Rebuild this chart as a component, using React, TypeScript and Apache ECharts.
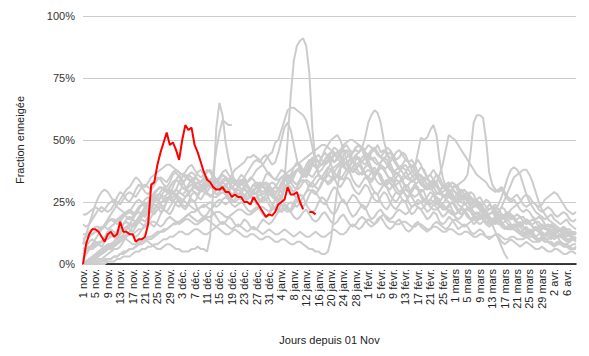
import React, { useEffect, useRef } from "react";
import * as echarts from "echarts";

// Month names and lengths used to build the day categories (1 Nov -> 9 Apr)
const monthNames = ["nov.", "déc.", "janv.", "févr.", "mars", "avr."];
const monthDays = [30, 31, 31, 28, 31, 9];

// Current season (red), fraction in %
const current = [
  0, 8, 12, 14, 14, 13, 11, 9, 12, 13,
  11, 12, 17, 13, 13, 12, 12, 9, 10, 10,
  11, 16, 32, 33, 40, 45, 49, 53, 48, 49,
  46, 42, 50, 56, 54, 55, 48, 45, 41, 37,
  34, 33, 31, 30, 30, 31, 29, 29, 27, 28,
  27, 27, 25, 25, 24, 27, 25, 23, 21, 19,
  20, 19.5, 21, 24, 25, 26, 31, 28, 28, 29,
  25, 22, null, 21, 21, 20,
];

// Past seasons (grey), fraction in %
const s01 = [
  0,1,2,3,4,5,6,7,8,8, 9,10,11,11,10,9,8,8,9,10, 10,9,8,7,6,6,7,8,8,7, 6,6,5,5,5,6,6,7,6,6,
  5,11,30,55,65,60,49,42,37,33, 31,32,33,31,29,28,29,31,33,32, 29,27,26,28,31,34,36,35,33,32, 34,37,40,42,41,39,40,43,45,43,
  40,37,35,34,36,38,37,34,32,31, 33,35,34,31,29,28,30,32,31,28, 26,25,27,29,28,25,23,24,26,25, 23,21,22,24,23,21,19,20,22,21,
  19,18,19,21,20,18,16,17,19,18, 16,15,16,18,17,15,14,15,16,14, 13,12,14,15,13,12,11,12,13,12, 11,10,12,13,11,10,9,10,11,10,
];
const s02 = [
  16,15,16,18,20,22,23,22,21,22, 24,27,29,28,26,25,27,30,32,31, 29,28,30,33,35,34,32,31,33,36, 37,35,33,34,36,35,33,31,30,31,
  29,31,37,46,53,58,57,56,56,
];
const s03 = [
  0,0,1,1,2,3,4,5,6,6, 7,8,10,12,14,15,16,17,18,20, 22,24,26,27,26,24,23,25,28,29, 27,25,23,22,24,26,25,22,20,19,
  20,22,21,19,17,16,17,19,18,16, 15,16,18,17,15,14,14,16,18,17, 16,17,19,21,25,34,50,68,82,88, 90,91,88,77,54,41,36,35,37,39,
  38,35,32,31,33,35,34,31,29,28, 30,32,31,28,26,25,27,29,28,25, 23,22,24,26,25,22,20,21,23,22, 20,18,19,21,20,17,16,17,19,18,
  16,14,15,16,15,13,12,13,14,13, 11,10,11,12,11,9,8,9,10,9, 8,7,8,9,8,7,6,6,7,6, 5,5,6,6,5,4,4,5,5,4,
];
const s04 = [
  8,9,11,12,13,13,14,15,17,18, 17,16,17,19,21,22,21,20,22,24, 26,27,26,28,30,31,30,29,31,33, 34,33,31,30,32,34,35,34,33,35,
  37,38,36,34,35,37,38,36,34,33, 34,36,35,33,34,36,38,39,40,42, 44,45,49,50,54,58,62,63,63,62, 61,60,58,53,47,41,36,34,35,38,
  41,44,45,43,40,38,39,42,44,42, 39,36,35,37,39,37,34,32,33,35, 34,31,29,30,32,31,28,27,28,30, 29,26,24,25,27,26,23,22,23,25,
  24,22,20,21,22,21,19,18,19,20, 19,17,16,17,18,17,15,14,15,16, 15,13,12,13,14,13,11,10,11,12, 12,11,10,11,12,11,10,9,10,11,
];
const s05 = [
  0,1,1,2,3,4,5,6,7,8, 9,11,13,14,15,16,18,20,21,20, 19,21,24,26,27,29,31,30,28,31, 34,36,34,31,29,30,32,33,31,30,
  32,34,35,33,31,30,31,33,35,34, 32,33,35,37,39,41,42,41,43,44, 42,40,41,45,50,55,57,54,48,42, 38,36,35,37,40,43,44,42,40,42,
  45,47,46,43,41,40,42,45,47,48, 46,43,40,38,37,38,41,43,42,39, 36,34,33,35,37,39,40,38,35,33, 31,30,32,34,33,30,28,27,28,30,
  29,27,25,24,25,27,26,24,22,21, 22,24,23,21,19,18,19,21,20,18, 16,15,16,18,17,15,14,13,14,15, 14,13,12,13,14,13,12,11,12,13,
];
const s06 = [
  3,4,6,8,9,8,7,9,11,12, 11,10,12,14,15,14,13,15,17,18, 17,19,22,24,23,21,22,25,27,26, 24,23,25,27,28,26,25,27,30,31,
  29,27,28,30,32,31,29,30,33,34, 32,30,31,33,35,34,32,31,33,36, 37,35,34,36,38,37,35,36,39,41, 40,38,37,39,42,43,41,40,42,44,
  43,41,42,44,46,45,43,42,44,45, 47,51,57,60,62,61,57,50,45,41, 38,36,37,39,38,35,33,34,36,35, 32,30,31,33,32,29,27,28,30,29,
  26,25,26,28,27,24,23,24,25,23, 21,20,21,23,22,20,18,19,20,19, 17,16,17,18,17,15,14,15,16,15, 13,12,13,14,13,12,11,12,13,12,
];
const s07 = [
  0,0,0,1,1,2,2,3,4,5, 6,6,7,9,11,12,12,11,12,14, 16,17,16,15,17,20,22,21,20,22, 25,26,24,23,25,28,29,27,26,28,
  31,32,30,28,29,31,30,27,26,25, 26,28,27,25,24,26,27,25,26,28, 30,29,28,30,33,35,34,33,35,38, 39,37,38,41,43,42,41,43,46,48,
  50,51,52,50,46,42,39,37,38,40, 39,36,34,33,35,37,36,33,31,30, 32,34,33,30,28,27,29,31,30,27, 25,24,26,28,27,24,22,22,24,25,
  23,21,20,21,23,22,20,18,18,20, 21,19,17,16,17,19,18,16,15,15, 16,17,15,13,13,14,15,14,12,12, 13,14,13,11,11,12,13,12,10,10,
];
const s08 = [
  12,12,13,14,15,15,14,15,17,18, 18,17,18,20,21,21,20,21,23,24, 24,23,25,27,28,28,27,28,30,29, 28,27,26,25,24,23,22,22,23,24,
  23,22,23,25,26,25,24,25,27,28, 27,26,27,29,30,29,28,30,32,33, 32,30,31,33,35,34,33,35,37,38, 37,35,36,38,40,39,37,38,40,41,
  42,41,43,44,42,40,38,37,39,40, 38,36,35,34,36,37,35,33,32,33, 31,32,33,34,35,36,37,39,45,51, 50,51,54,56,52,42,35,31,29,30,
  32,31,28,26,27,29,28,25,23,24, 26,25,22,20,21,23,22,19,18,19, 20,19,17,16,17,18,17,15,14,15, 16,15,14,13,14,15,14,12,12,13,
];
const s09 = [
  5,6,7,7,8,9,9,10,11,12, 12,13,13,14,15,16,16,17,18,19, 20,21,21,22,24,25,25,26,27,27, 28,29,28,27,28,30,31,30,29,31,
  33,34,33,31,32,34,35,34,33,32, 33,34,33,31,30,32,33,32,31,30, 30,28,26,25,27,30,32,31,28,26, 24,23,25,28,30,29,27,25,24,26,
  29,31,30,27,25,24,26,28,27,25, 23,22,24,27,29,28,25,23,22,24, 27,29,28,26,25,27,30,32,33,34, 35,34,33,32,33,36,40,46,52,51,
  50,48,46,44,42,40,38,36,35,34, 33,31,30,29,30,31,29,27,26,27, 28,26,24,23,24,25,24,22,21,22, 23,22,20,19,20,21,20,18,17,18,
];
const s10 = [
  0,0,0,0,0,1,1,1,2,2, 3,3,4,5,5,6,6,7,8,8, 9,10,10,11,12,13,13,14,15,16, 17,17,18,19,20,21,21,22,23,23,
  24,25,24,23,24,26,27,26,25,26, 28,29,28,27,28,30,31,30,29,30, 32,33,32,30,29,30,32,33,31,30, 31,33,34,33,31,32,34,35,34,32,
  33,35,36,35,34,36,38,39,37,36, 37,39,40,38,36,37,39,38,36,34, 35,37,36,33,31,32,34,33,30,29, 30,32,31,29,28,29,31,30,32,31,
  31,32,33,34,36,45,57,60,60,59, 50,37,32,30,29,30,28,26,25,26, 24,22,21,22,21,19,18,19,18,16, 15,16,15,13,14,15,13,12,13,12,
];
const s11 = [
  10,11,12,12,13,14,15,15,14,15, 16,18,19,20,19,18,19,21,23,24, 23,22,23,25,26,27,26,25,27,29, 30,29,28,29,31,32,31,30,31,33,
  34,33,31,30,31,33,34,33,31,30, 31,33,34,32,30,29,31,33,32,30, 26,24,22,21,22,24,23,21,19,18, 19,21,22,20,18,17,18,20,21,19,
  17,16,17,19,20,18,16,15,16,18, 19,18,16,15,16,18,19,17,15,14, 15,17,18,16,14,13,14,16,17,15, 14,13,14,16,17,16,15,14,15,17,
  18,17,16,15,16,17,18,17,16,17, 19,20,21,22,24,27,31,35,38,39, 38,36,32,28,25,23,21,20,19,18, 19,20,18,17,16,17,18,16,15,14,
];
const s12 = [
  0,0,0,0,0,0,0,0,1,1, 1,2,2,3,3,3,4,5,5,6, 6,7,7,8,8,9,10,10,11,11, 12,13,13,12,12,13,14,14,13,12,
  12,13,14,15,14,13,12,12,13,14, 13,12,11,11,12,12,11,10,10,11, 11,10,9,9,10,10,9,8,8,9, 9,8,7,6,6,5,5,4,4,5,
  10,20,30,38,44,46,45,42,40,41, 43,44,42,39,37,38,40,39,36,34, 33,35,36,34,31,29,30,32,31,28, 26,27,29,28,25,23,24,26,25,22,
  20,21,23,22,20,18,19,21,20,18, 17,17,18,19,21,23,26,29,32,35, 36,37,38,38,36,33,29,25,22,20, 18,17,16,15,14,14,13,13,12,12,
];
const s13 = [
  20,20,21,22,23,22,21,22,24,25, 26,25,24,26,28,29,28,27,29,31, 32,31,30,32,34,35,34,33,35,37, 38,37,36,37,39,40,38,36,35,36,
  38,37,35,33,34,36,35,33,31,32, 34,33,31,29,30,32,31,29,28,29, 31,30,29,30,32,34,35,34,36,38, 39,38,37,39,41,42,41,40,42,44,
  45,44,43,45,47,48,46,45,47,48, 47,45,44,46,47,45,43,42,44,45, 43,41,39,40,42,41,38,36,37,39, 38,35,33,34,36,35,32,30,31,33,
  32,29,27,28,29,27,25,24,23,22, 20,18,16,13,10,7,4,2,
];
const s14 = [
  8,12,16,20,24,27,29,30,29,27, 25,23,22,21,20,21,23,25,26,25, 24,25,27,29,30,31,30,29,31,33, 34,33,32,34,36,37,36,34,33,34,
  35,33,31,30,31,33,32,30,28,29, 30,29,27,26,27,29,28,26,25,26, 28,29,27,26,28,30,31,30,29,31, 33,34,33,31,33,35,36,35,34,36,
  38,39,40,41,42,43,44,45,46,45, 47,46,48,47,46,48,45,46,44,43, 42,40,38,39,40,38,36,34,35,36, 34,32,30,31,32,30,28,26,27,28,
  26,24,23,24,25,23,21,20,21,22, 20,18,17,18,19,17,15,14,15,16, 14,12,11,12,13,11,10,9,10,11, 9,8,7,8,9,8,7,6,6,7,
];
const s15 = [
  2,4,6,8,10,12,14,16,18,20, 22,24,26,28,30,31,33,35,34,32, 31,33,35,36,37,38,39,40,40,39, 38,37,36,35,34,33,32,31,30,29,
  28,28,27,27,28,29,28,26,24,23, 24,25,24,22,21,22,23,22,20,19, 20,22,23,22,21,22,24,25,24,23, 25,27,29,30,29,28,30,33,34,33,
  34,37,39,40,39,38,40,42,43,42, 41,43,44,43,41,40,41,42,40,38, 37,38,39,37,35,34,35,36,34,32, 31,32,33,31,29,28,29,30,28,26,
  25,26,27,25,23,22,23,24,22,20, 19,20,21,19,17,16,17,18,16,15, 15,16,15,14,13,13,14,13,12,12, 13,12,11,11,12,11,10,10,11,10,
];
const s16 = [
  1,1,2,2,3,4,4,5,6,7, 8,9,10,11,12,13,15,16,17,16, 15,17,19,21,22,23,22,21,23,25, 27,26,25,27,29,30,29,28,30,32,
  33,32,31,33,35,36,35,34,36,38, 39,40,41,43,43,44,43,42,40,38, 36,35,34,34,35,36,37,38,39,40, 41,42,43,44,45,46,47,48,48,47,
  46,45,43,41,40,41,42,41,39,37, 36,37,38,37,35,33,32,33,34,33, 31,29,28,29,30,29,27,25,24,25, 26,25,23,22,22,23,24,23,21,20,
  20,21,22,21,19,18,18,19,20,19, 17,16,16,17,18,17,15,14,14,15, 16,15,13,12,12,13,14,13,11,10, 10,11,12,11,9,8,8,9,10,9,
];
const s17 = [
  0,0,0,0,1,1,1,2,2,2, 3,3,4,4,5,6,6,7,8,9, 10,11,11,12,13,13,14,14,15,16, 16,17,17,18,18,17,16,16,17,18,
  19,19,20,21,21,20,19,19,20,21, 22,22,21,20,20,21,22,23,23,22, 21,23,26,28,27,24,22,21,23,26, 28,27,24,22,21,22,25,27,26,23,
  21,20,22,25,26,24,21,19,20,22, 24,23,20,18,19,21,22,20,18,17, 17,16,16,17,17,16,15,15,16,16, 15,14,14,15,15,14,13,13,14,14,
  13,12,12,13,13,12,11,11,12,12, 11,11,11,12,12,11,10,10,11,11, 10,10,10,11,10,9,9,9,10,9, 9,8,8,9,9,8,8,7,8,8,
];
const s18 = [
  4,5,6,6,7,8,9,10,10,11, 12,13,14,16,17,16,15,16,18,20, 21,22,21,20,22,24,26,27,26,25, 27,29,31,30,29,30,32,33,32,31,
  32,34,35,34,32,31,32,33,31,29, 28,29,30,29,27,26,27,28,27,26, 28,30,31,30,29,31,33,34,33,32, 34,36,37,36,35,37,39,40,41,42,
  43,44,45,46,48,49,50,50,49,48, 47,45,43,42,43,41,39,38,39,41, 43,45,46,44,42,41,42,40,37,35, 34,35,36,34,31,30,31,32,30,27,
  26,27,28,27,25,24,25,26,24,22, 21,22,23,22,20,19,20,21,19,18, 18,19,19,17,16,16,17,17,15,14, 14,15,15,14,13,13,14,14,12,12,
];
const s19 = [
  6,7,9,10,9,8,9,11,13,14, 13,12,14,16,18,19,18,17,19,21, 23,24,23,22,24,27,29,30,29,28, 30,33,35,36,35,33,34,37,38,36,
  33,31,32,34,33,30,28,29,31,30, 28,26,27,29,28,26,24,25,27,26, 24,22,23,25,24,22,21,22,25,27, 28,27,29,32,33,31,30,32,35,36,
  35,34,36,39,40,38,37,39,42,43, 41,40,42,45,46,44,43,45,47,46, 44,42,43,45,44,41,39,40,42,40, 37,35,36,38,36,33,31,32,33,31,
  29,28,29,30,28,26,25,26,27,25, 23,22,23,24,22,20,19,20,22,23, 24,25,27,28,27,25,24,23,24,26, 27,28,29,28,26,24,22,21,20,21,
];
const s20 = [
  0,0,1,2,3,4,4,5,6,7, 8,8,9,10,11,12,12,13,14,14, 15,16,17,17,16,15,16,18,19,18, 17,16,17,19,20,19,18,17,18,19,
  18,17,16,15,16,17,16,15,14,15, 16,15,14,13,14,15,14,13,12,13, 14,13,12,12,13,14,13,12,11,12, 13,12,11,11,12,13,12,11,11,12,
  13,14,13,12,12,13,15,16,15,14, 15,17,18,17,16,17,19,20,19,18, 19,21,22,21,20,21,23,24,23,22, 23,25,26,25,24,25,27,28,27,26,
  27,29,30,28,26,25,24,23,22,21, 20,19,18,17,16,16,15,15,14,14, 13,13,12,12,11,11,10,10,10,9, 9,9,8,8,8,7,7,7,6,6,
];

const pastSeasons = [s01, s02, s03, s04, s05, s06, s07, s08, s09, s10, s11, s12, s13, s14, s15, s16, s17, s18, s19, s20];

const yTicks = [0, 25, 50, 75, 100];

const FONT = "'Liberation Sans', Arial, sans-serif";

function buildCategories(): string[] {
  const cats: string[] = [];
  monthNames.forEach((m, k) => {
    for (let d = 1; d <= monthDays[k]; d++) cats.push(`${d} ${m}`);
  });
  return cats;
}

export default function App() {
  const ref = useRef<HTMLDivElement>(null);
  useEffect(() => {
    if (!ref.current) return;
    const chart = echarts.init(ref.current, undefined, { renderer: "svg" });
    const categories = buildCategories();
    const series: any[] = pastSeasons.map((d, k) => ({
      name: `s${k + 1}`,
      type: "line",
      data: d,
      showSymbol: false,
      symbol: "none",
      lineStyle: { color: "#cccccc", width: 2 },
      itemStyle: { color: "#cccccc" },
      connectNulls: false,
      silent: true,
      z: 2,
    }));
    series.push({
      name: "current",
      type: "line",
      data: current,
      showSymbol: false,
      symbol: "none",
      lineStyle: { color: "#ff0000", width: 2 },
      itemStyle: { color: "#ff0000" },
      connectNulls: false,
      silent: true,
      z: 3,
    });
    chart.setOption({
      animation: false,
      textStyle: { fontFamily: FONT },
      grid: { left: 83, right: 13, top: 16, bottom: 92, containLabel: false },
      xAxis: {
        type: "category",
        data: categories,
        boundaryGap: false,
        name: "Jours depuis 01 Nov",
        nameLocation: "middle",
        nameGap: 70,
        nameTextStyle: { fontSize: 11, color: "#222", fontFamily: FONT },
        axisLine: { show: true, lineStyle: { color: "#000", width: 1.5 } },
        axisTick: { show: false },
        axisLabel: {
          interval: 3,
          rotate: 90,
          fontSize: 11,
          color: "#222",
          margin: 5,
          fontFamily: FONT,
        },
        splitLine: { show: false },
      },
      yAxis: {
        type: "value",
        min: yTicks[0],
        max: yTicks[yTicks.length - 1],
        interval: 25,
        name: "Fraction enneigée",
        nameLocation: "middle",
        nameGap: 58,
        nameRotate: 90,
        nameTextStyle: { fontSize: 11, color: "#222", fontFamily: FONT },
        axisLine: { show: false },
        axisTick: { show: false },
        axisLabel: { formatter: "{value}%", fontSize: 11, color: "#333", margin: 8, fontFamily: FONT },
        splitLine: { lineStyle: { color: "#cccccc", width: 1 } },
      },
      series,
    });
    return () => chart.dispose();
  }, []);
  return <div ref={ref} style={{ width: 589, height: 356, position: "absolute", left: 0, top: 0 }} />;
}
